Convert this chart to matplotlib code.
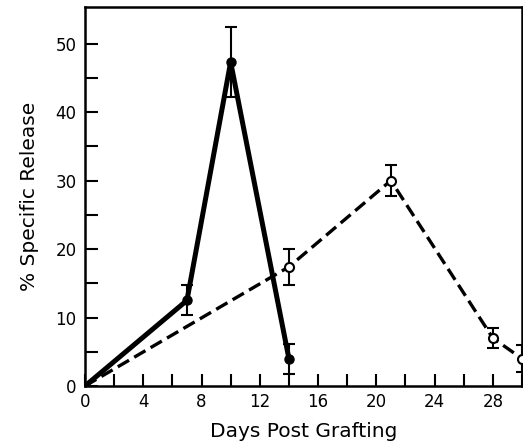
import matplotlib
matplotlib.use("Agg")
import matplotlib.pyplot as plt
import numpy as np

# filled circles (solid line)
days_filled = [0, 7, 10, 14]
release_filled = [0, 12.5, 47.3, 4.0]
err_filled = [0, 2.2, 5.1, 2.2]

# open circles (dashed line)
days_open = [0, 14, 21, 28, 30]
release_open = [0, 17.4, 30.0, 7.0, 4.0]
err_open = [0, 2.6, 2.2, 1.5, 2.0]

xticks = [0, 4, 8, 12, 16, 20, 24, 28]
yticks = [0, 10, 20, 30, 40, 50]

fig = plt.figure(figsize=(5.23, 4.45), dpi=100)
ax = fig.add_axes([0.1625, 0.1326, 0.8355, 0.851])

ax.plot(days_filled, release_filled, color="black", lw=3.6, solid_capstyle="butt", zorder=2)
ax.plot(days_open, release_open, color="black", lw=2.4, ls=(0, (3.9, 1.8)), zorder=2)

ax.errorbar(days_filled[1:], release_filled[1:], yerr=err_filled[1:], fmt="o",
            color="black", ms=6.5, capsize=4, elinewidth=1.5, capthick=1.5, zorder=3)
ax.errorbar(days_open[1:], release_open[1:], yerr=err_open[1:], fmt="o",
            mfc="white", mec="black", mew=1.5, color="black", ms=6.5, capsize=4,
            elinewidth=1.5, capthick=1.5, zorder=3)

ax.set_xlim(0, 30)
ax.set_ylim(0, 55.3)
ax.set_xticks(xticks)
ax.set_xticks(np.arange(0, 31, 2), minor=True)
ax.set_yticks(yticks)
ax.set_yticks(np.arange(0, 51, 5), minor=True)

ax.tick_params(which="both", direction="in", length=9, width=1.5, labelsize=12, pad=6)
ax.tick_params(axis="x", pad=5)
for s in ax.spines.values():
    s.set_linewidth(1.8)

ax.set_xlabel("Days Post Grafting", fontsize=14.5, labelpad=8)
ax.set_ylabel("% Specific Release", fontsize=14.5, labelpad=12)

fig.savefig("out.png", dpi=100)
